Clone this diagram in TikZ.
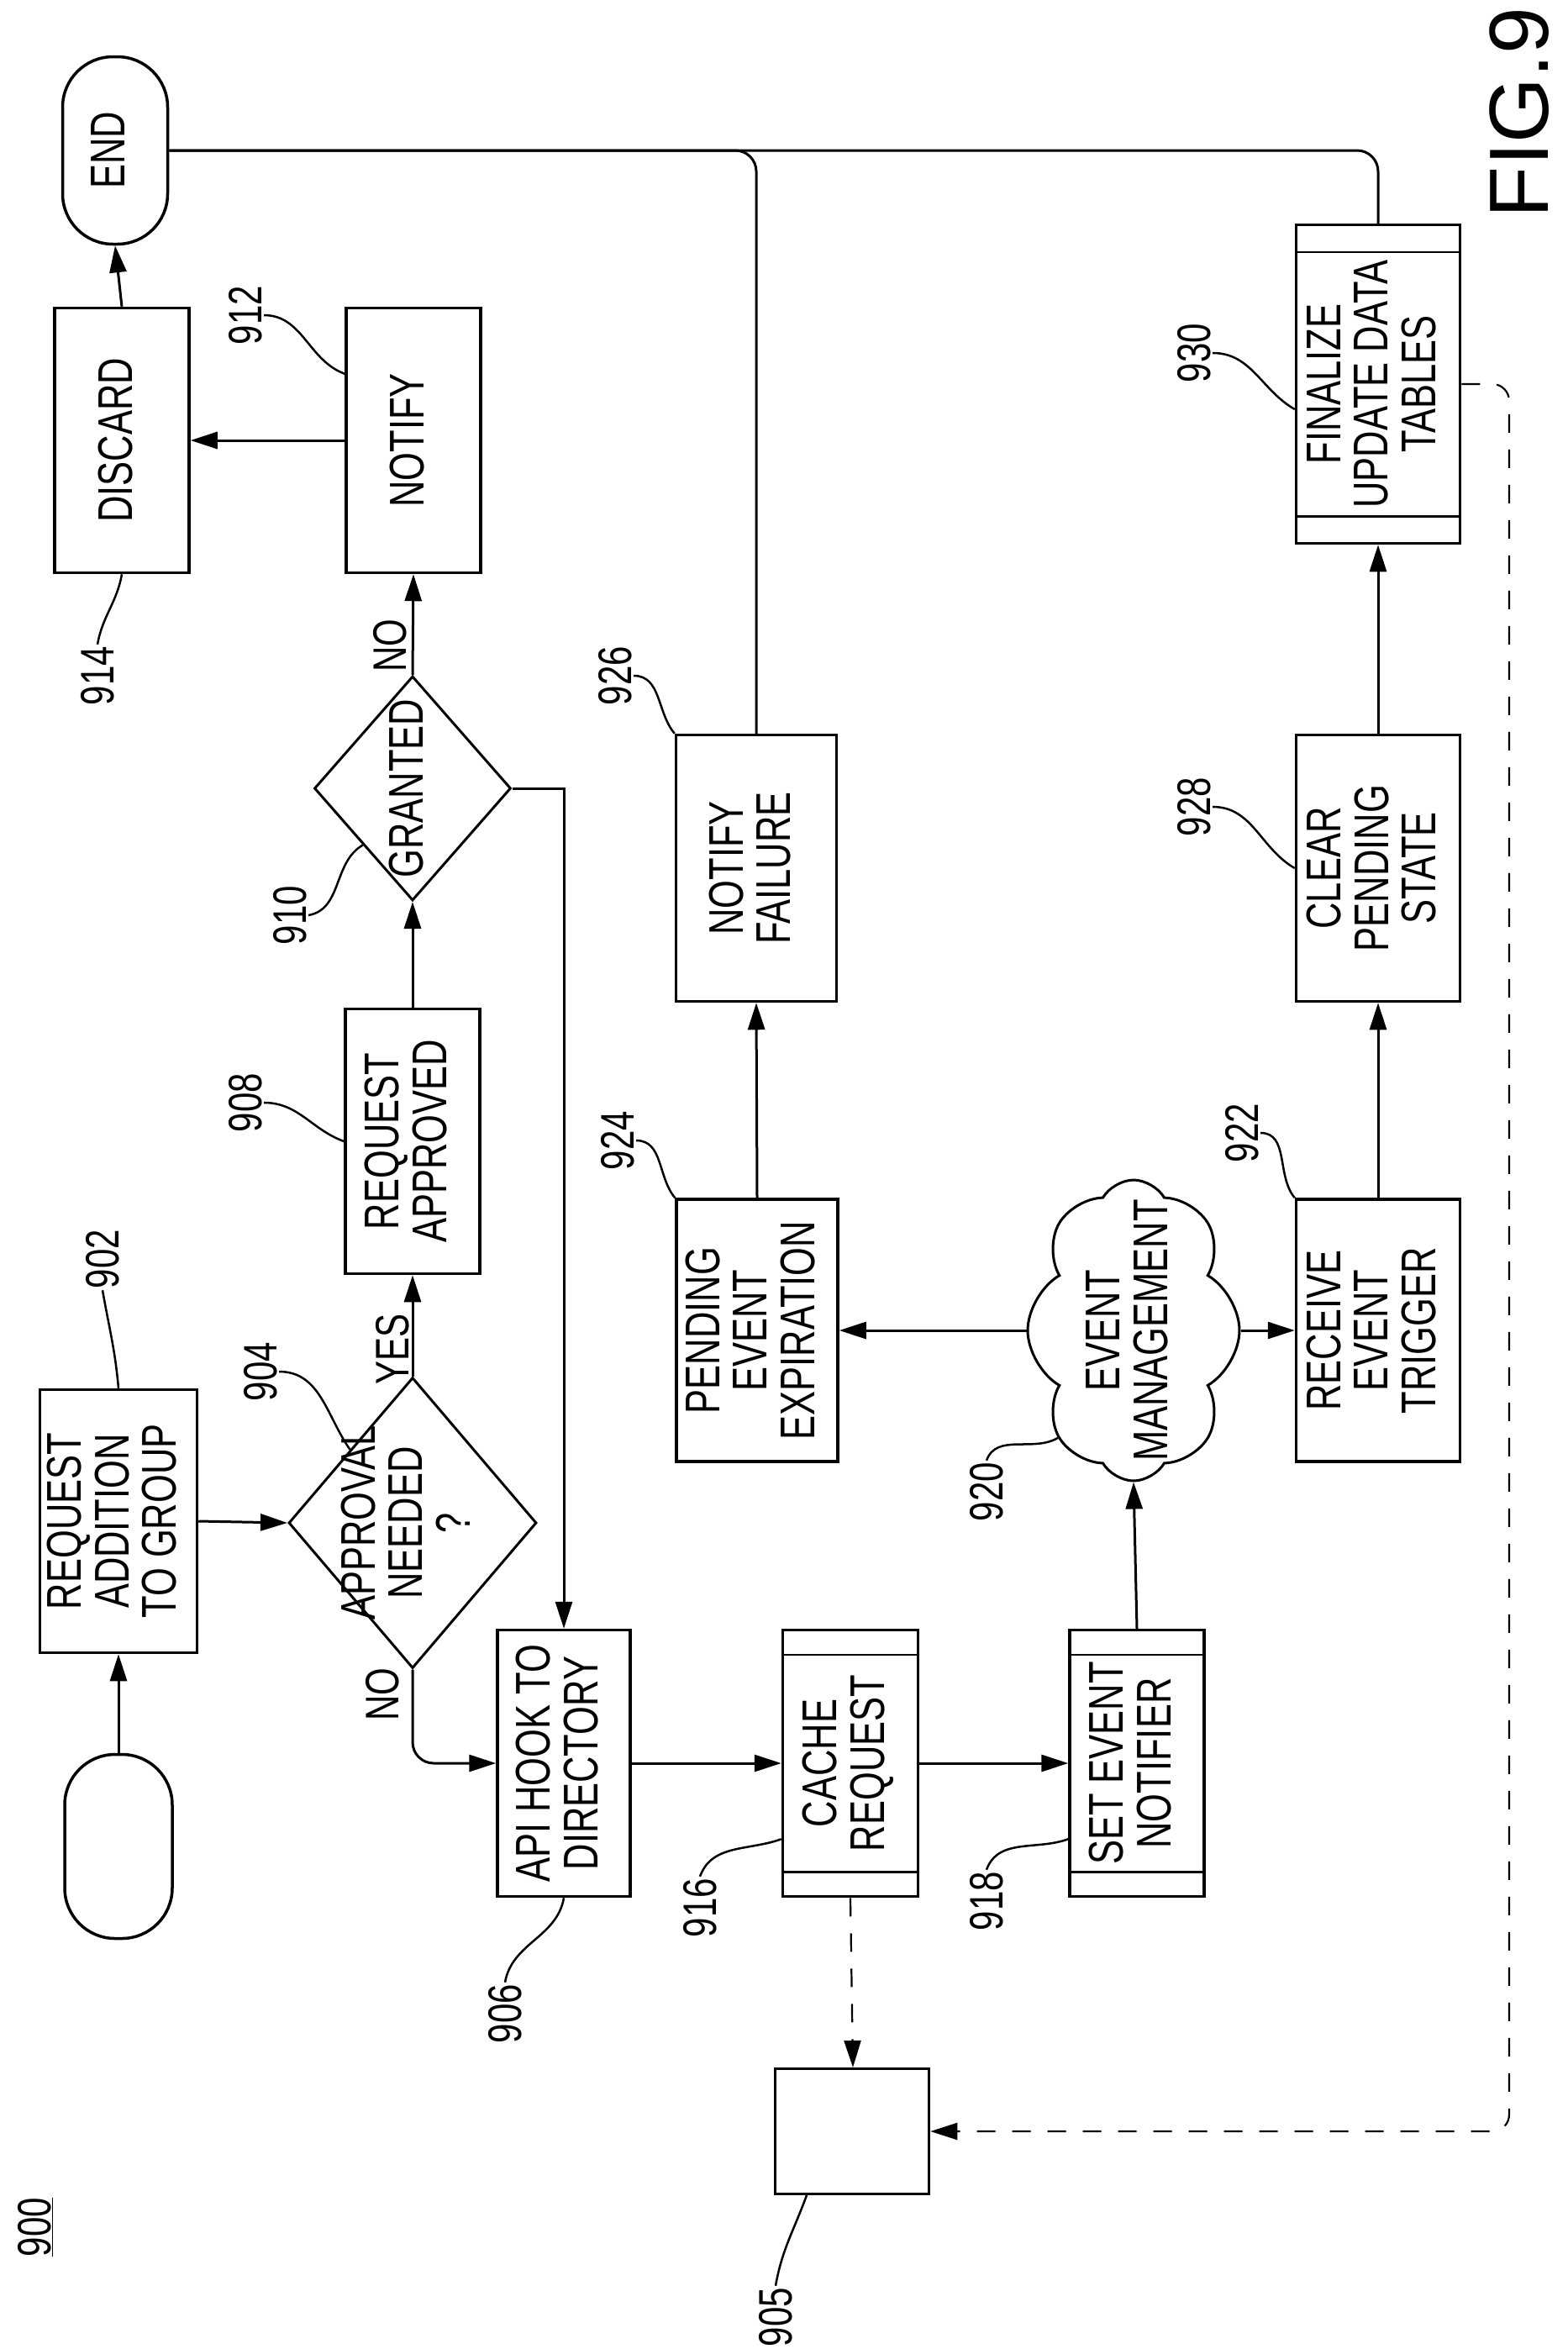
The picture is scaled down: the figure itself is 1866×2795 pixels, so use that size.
\documentclass[tikz,border=0pt]{standalone}
\usepackage{fontspec}
\setmainfont{Liberation Sans}[FakeStretch=0.75]
\newfontfamily\figfont{Liberation Sans}
\usetikzlibrary{arrows.meta,shapes.geometric,shapes.symbols,positioning}
\newcommand\rtx[1]{\rotatebox{90}{\begin{tabular}{@{}c@{}}#1\end{tabular}}}
\begin{document}
\begin{tikzpicture}[x=1pt,y=-1pt,
  every node/.style={font=\fontsize{58}{54}\selectfont},
  box/.style={draw,line width=3.5pt,rectangle,inner sep=0pt,align=center},
  pill/.style={draw,line width=3.5pt,rectangle,rounded corners=60pt,inner sep=0pt},
  dia/.style={draw,line width=3pt,diamond,inner sep=0pt},
  con/.style={line width=3pt},
  arr/.style={line width=3pt,-{Triangle[length=32pt,width=20pt]}},
  dsh/.style={line width=2.2pt,dash pattern=on 22pt off 20pt},
  lead/.style={line width=2.5pt},
  lbl/.style={inner sep=2pt,font=\fontsize{56}{56}\selectfont}]
\useasboundingbox (0,0) rectangle (1866,2795);

% shapes
\node[pill,minimum width=128pt,minimum height=219pt] (start) at (141,2197) {};
\node[box,minimum width=187pt,minimum height=313pt] (n902) at (141,1810) {\rtx{REQUEST\\ADDITION\\TO GROUP}};
\node[dia,minimum width=295pt,minimum height=346pt,label={center:\rtx{APPROVAL\\NEEDED\\?}}] (d904) at (491,1812) {};
\node[box,minimum width=160pt,minimum height=315pt] (n908) at (491,1358) {\rtx{REQUEST\\APPROVED}};
\node[dia,minimum width=234pt,minimum height=267pt,label={center:\rtx{GRANTED}}] (d910) at (491,938) {};
\node[box,minimum width=160pt,minimum height=315pt] (n912) at (492,524) {\rtx{NOTIFY}};
\node[box,minimum width=160pt,minimum height=315pt] (n914) at (145,524) {\rtx{DISCARD}};
\node[pill,minimum width=125pt,minimum height=223pt] (end) at (137,179) {\rtx{END}};
\node[box,minimum width=158pt,minimum height=317pt] (n906) at (671,2098) {\rtx{API HOOK TO\\DIRECTORY}};
\node[box,minimum width=161pt,minimum height=317pt] (n916) at (1012,2098) {\rtx{CACHE\\REQUEST}};
\node[box,minimum width=160pt,minimum height=317pt] (n918) at (1353,2098) {\rtx{SET EVENT\\NOTIFIER}};
\node[draw,line width=3pt,cloud,cloud puffs=8,cloud puff arc=120,aspect=0.7,inner sep=0pt,minimum width=252pt,minimum height=358pt,label={center:\rtx{EVENT\\MANAGEMENT}}] (c920) at (1349,1583) {};
\node[box,minimum width=192pt,minimum height=312pt] (n924) at (901,1583) {\rtx{PENDING\\EVENT\\EXPIRATION}};
\node[box,minimum width=195pt,minimum height=312pt] (n922) at (1640,1583) {\rtx{RECEIVE\\EVENT\\TRIGGER}};
\node[box,minimum width=191pt,minimum height=317pt] (n926) at (900,1033) {\rtx{NOTIFY\\FAILURE}};
\node[box,minimum width=195pt,minimum height=317pt] (n928) at (1640,1033) {\rtx{CLEAR\\PENDING\\STATE}};
\node[box,minimum width=195pt,minimum height=379pt] (n930) at (1640,457) {\rtx{FINALIZE\\UPDATE DATA\\TABLES}};
\node[draw,line width=3pt,cylinder,shape border rotate=180,aspect=0.35,inner sep=0pt,minimum width=149pt,minimum height=183pt] (cyl) at (1015,2536) {};

% predefined-process inner lines
\foreach \n/\d in {n916/31,n918/31,n930/34}{
  \draw[line width=2.5pt] ([yshift=-\d pt]\n.north west) -- ([yshift=-\d pt]\n.north east);
  \draw[line width=2.5pt] ([yshift=\d pt]\n.south west) -- ([yshift=\d pt]\n.south east);
}

% connectors
\draw[arr] (start.north) -- (n902.south);
\draw[arr] (n902.east) -- (d904.west);
\draw[arr] (d904.north) -- (n908.south);
\draw[arr] (n908.north) -- (d910.south);
\draw[arr] (d910.north) -- (n912.south);
\draw[arr] (n912.west) -- (n914.east);
\draw[arr] (n914.north) -- (end.south);
\draw[arr,rounded corners=25pt] (d904.south) |- (n906.west);
\draw[arr] (d910.east) -| (n906.north);
\draw[arr] (n906.east) -- (n916.west);
\draw[arr] (n916.east) -- (n918.west);
\draw[arr] (n918.north) -- (c920.south);
\draw[arr] (c920.west) -- (n924.east);
\draw[arr] (c920.east) -- (n922.west);
\draw[arr] (n924.north) -- (n926.south);
\draw[arr] (n922.north) -- (n928.south);
\draw[arr] (n928.north) -- (n930.south);
\draw[con,rounded corners=25pt] (n930.north) |- (end.east);
\draw[con,rounded corners=25pt] (n926.north) |- (end.east);
\draw[dsh,-{Triangle[length=32pt,width=20pt]}] (n916.south) -- (cyl.north);
\coordinate (dc) at (1796,2536);
\draw[dsh,rounded corners=20pt,-{Triangle[length=32pt,width=20pt]}] (n930.east) -| (dc) -- (cyl.east);

% branch labels
\node[lbl] (yes) at (467,1605) {\rotatebox{90}{YES}};
\node[lbl] (no1) at (464,768) {\rotatebox{90}{NO}};
\node[lbl] (no2) at (455,2016) {\rotatebox{90}{NO}};

% reference labels
\node[lbl] (l902) at (122,1498) {\rotatebox{90}{902}};
\node[lbl] (l904) at (310,1632) {\rotatebox{90}{904}};
\node[lbl] (l906) at (601,2396) {\rotatebox{90}{906}};
\node[lbl] (l908) at (292,1312) {\rotatebox{90}{908}};
\node[lbl] (l910) at (345,1089) {\rotatebox{90}{910}};
\node[lbl] (l912) at (292,375) {\rotatebox{90}{912}};
\node[lbl] (l914) at (116,804) {\rotatebox{90}{914}};
\node[lbl] (l916) at (833,2270) {\rotatebox{90}{916}};
\node[lbl] (l918) at (1174,2262) {\rotatebox{90}{918}};
\node[lbl] (l920) at (1174,1775) {\rotatebox{90}{920}};
\node[lbl] (l922) at (1478,1348) {\rotatebox{90}{922}};
\node[lbl] (l924) at (735,1357) {\rotatebox{90}{924}};
\node[lbl] (l926) at (732,804) {\rotatebox{90}{926}};
\node[lbl] (l928) at (1421,960) {\rotatebox{90}{928}};
\node[lbl] (l930) at (1421,420) {\rotatebox{90}{930}};
\node[lbl] (l905) at (923,2757) {\rotatebox{90}{905}};
\node[lbl] (l900) at (42,2650) {\rotatebox{90}{\underline{900}}};
\node[font=\figfont\fontsize{100}{100}\selectfont] (fig) at (1808,134) {\rotatebox{90}{FIG.9}};

% leaders
\draw[lead] (l902.south) to[out=-80,in=95] (n902.north);
\draw[lead] (l904.east) to[out=0,in=125] (d904.north west);
\draw[lead] (l906.north) to[out=80,in=-100] (n906.south);
\draw[lead] (l908.east) to[out=0,in=160] (n908.west);
\draw[lead] (l910.east) to[out=10,in=210] (d910.south west);
\draw[lead] (l912.east) to[out=0,in=160] ([yshift=-80pt]n912.north west);
\draw[lead] (l914.north) to[out=80,in=-100] (n914.south);
\draw[lead] (l916.north) to[out=70,in=200] ([yshift=70pt]n916.south west);
\draw[lead] (l918.north) to[out=70,in=200] ([yshift=70pt]n918.south west);
\draw[lead] (l920.north) to[out=70,in=210] (c920.south west);
\draw[lead] (l922.east) to[out=0,in=130] (n922.north west);
\draw[lead] (l924.east) to[out=0,in=130] (n924.north west);
\draw[lead] (l926.east) to[out=0,in=130] (n926.north west);
\draw[lead] (l928.east) to[out=0,in=150] (n928.west);
\draw[lead] (l930.east) to[out=0,in=150] ([yshift=-30pt]n930.west);
\draw[lead] (l905.north) to[out=80,in=-110] ([xshift=-55pt]cyl.south);
\end{tikzpicture}
\end{document}
